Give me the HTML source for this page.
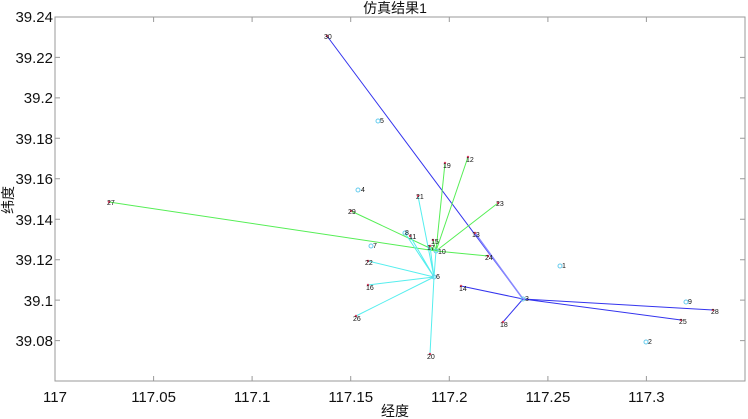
<!DOCTYPE html>
<html><head><meta charset="utf-8"><style>body{margin:0;background:#fff}svg{display:block}</style></head><body>
<svg width="748" height="419" xmlns="http://www.w3.org/2000/svg" font-family="Liberation Sans, Noto Sans CJK SC, sans-serif">
<rect width="748" height="419" fill="#fff"/>
<g stroke="#9a9a9a" stroke-width="1" fill="none">
<rect x="55" y="17" width="690" height="364"/>
<path d="M153.6 381v-5M252.1 381v-5M350.7 381v-5M449.3 381v-5M547.9 381v-5M646.4 381v-5M153.6 17v5M252.1 17v5M350.7 17v5M449.3 17v5M547.9 17v5M646.4 17v5"/>
<path d="M55 57.4h5M55 97.9h5M55 138.3h5M55 178.8h5M55 219.2h5M55 259.7h5M55 300.1h5M55 340.6h5M745 57.4h-5M745 97.9h-5M745 138.3h-5M745 178.8h-5M745 219.2h-5M745 259.7h-5M745 300.1h-5M745 340.6h-5"/>
</g>
<g font-size="15" fill="#111" text-anchor="middle">
<text x="55" y="402">117</text><text x="153.6" y="402">117.05</text><text x="252.1" y="402">117.1</text><text x="350.7" y="402">117.15</text><text x="449.3" y="402">117.2</text><text x="547.9" y="402">117.25</text><text x="646.4" y="402">117.3</text>
</g>
<g font-size="15" fill="#111" text-anchor="end">
<text x="53" y="22">39.24</text><text x="53" y="63">39.22</text><text x="53" y="103">39.2</text><text x="53" y="144">39.18</text><text x="53" y="184">39.16</text><text x="53" y="225">39.14</text><text x="53" y="265">39.12</text><text x="53" y="306">39.1</text><text x="53" y="346">39.08</text>
</g>
<text x="395" y="13" font-size="14" text-anchor="middle" fill="#111">仿真结果1</text>
<text x="395" y="416" font-size="14" text-anchor="middle" fill="#111">经度</text>
<text transform="translate(13,200) rotate(-90)" font-size="14" text-anchor="middle" fill="#111">纬度</text>
<g stroke="#3333ee" stroke-width="1">
<path d="M523 299L327 36M523 299L461 286M523 299L503 322M523 299L713 310M523 299L681 320"/>
</g>
<path d="M523 299L475 233" stroke="#8888ff" stroke-width="1.5"/>
<g stroke="#55ee55" stroke-width="1">
<path d="M436 251L109 202M436 251L351 211M436 251L445 163M436 251L468 157M436 251L498 203M436 251L488 256M436 251L433 240M436 251L430 246"/>
</g>
<g stroke="#55eeee" stroke-width="1">
<path d="M434 277L418 196M434 277L405 233M434 277L410 236M434 277L368 261M434 277L368 285M434 277L356 316M434 277L430 354M434 277L436 251M434 277L430 246"/>
</g>
<g fill="none" stroke="#66ccee" stroke-width="1">
<circle cx="358" cy="190" r="2"/><circle cx="378" cy="121" r="2"/><circle cx="371" cy="246" r="2"/><circle cx="405" cy="233" r="2"/><circle cx="560" cy="266" r="2"/><circle cx="686" cy="302" r="2"/><circle cx="646" cy="342" r="2"/><circle cx="434" cy="277" r="2"/><circle cx="436" cy="251" r="2"/><circle cx="523" cy="299" r="2"/>
</g>
<g fill="#dd4466">
<circle cx="327" cy="36" r="1.2"/><circle cx="468" cy="157" r="1.2"/><circle cx="445" cy="163" r="1.2"/><circle cx="418" cy="196" r="1.2"/><circle cx="498" cy="203" r="1.2"/><circle cx="351" cy="211" r="1.2"/><circle cx="410" cy="236" r="1.2"/><circle cx="475" cy="233" r="1.2"/><circle cx="433" cy="240" r="1.2"/><circle cx="430" cy="246" r="1.2"/><circle cx="488" cy="256" r="1.2"/><circle cx="368" cy="261" r="1.2"/><circle cx="368" cy="285" r="1.2"/><circle cx="461" cy="286" r="1.2"/><circle cx="356" cy="316" r="1.2"/><circle cx="503" cy="322" r="1.2"/><circle cx="430" cy="354" r="1.2"/><circle cx="109" cy="202" r="1.2"/><circle cx="713" cy="310" r="1.2"/><circle cx="681" cy="320" r="1.2"/>
</g>
<g font-size="7" fill="#111">
<text x="361" y="192">4</text><text x="380" y="123">5</text><text x="373" y="248">7</text><text x="405" y="235">8</text><text x="562" y="268">1</text><text x="688" y="304">9</text><text x="648" y="344">2</text><text x="436" y="279">6</text><text x="438" y="254">10</text><text x="525" y="301">3</text>
<text x="324" y="39">30</text><text x="466" y="162">12</text><text x="443" y="168">19</text><text x="416" y="199">21</text><text x="496" y="206">23</text><text x="348" y="214">29</text><text x="409" y="239">11</text><text x="472" y="237">13</text><text x="431" y="244">15</text><text x="427" y="250">17</text><text x="485" y="260">24</text><text x="365" y="265">22</text><text x="366" y="290">16</text><text x="459" y="291">14</text><text x="353" y="321">26</text><text x="500" y="327">18</text><text x="427" y="359">20</text><text x="107" y="205">27</text><text x="711" y="314">28</text><text x="679" y="324">25</text>
</g>
</svg>
</body></html>
